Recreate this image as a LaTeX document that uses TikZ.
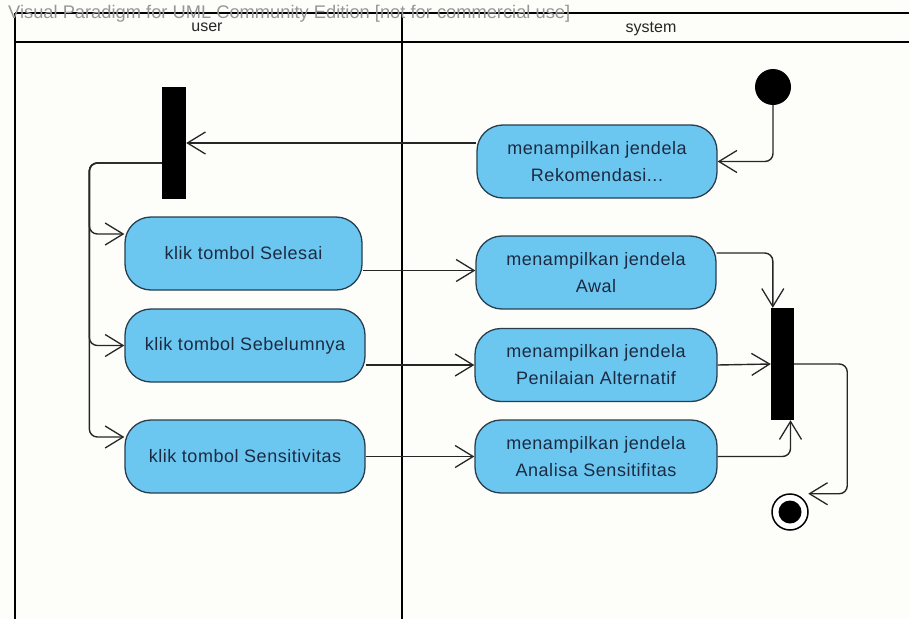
\documentclass[tikz,border=0pt]{standalone}
\usepackage{fontspec}
\setmainfont{Liberation Sans}
\newfontfamily\boxfont[LetterSpace=3]{Liberation Sans}
\newfontfamily\lanefont{Liberation Sans}
\usetikzlibrary{arrows.meta,calc}

\definecolor{actfill}{RGB}{108,199,240}
\definecolor{actedge}{RGB}{40,62,78}
\definecolor{acttext}{RGB}{28,42,66}
\definecolor{paper}{RGB}{253,253,250}
\definecolor{vpgray}{RGB}{150,150,150}

\tikzset{
  act/.style={draw=actedge, fill=actfill, line width=1.3pt, rounded corners=26pt,
    minimum width=240pt, minimum height=73pt, inner sep=0pt, align=center,
    text=acttext, font=\boxfont\fontsize{18}{27}\selectfont},
  bar/.style={fill=black, draw=none, inner sep=0pt},
  lane/.style={line width=2.2pt, black},
  flow/.style={line width=1.4pt, black!85, rounded corners=8pt,
    -{Straight Barb[length=18pt,width=22pt,line width=1.3pt]}},
  lanelabel/.style={font=\lanefont\fontsize{16}{16}\selectfont, text=black!85}
}

\begin{document}
\begin{tikzpicture}[x=1pt,y=-1pt]
  \useasboundingbox (0,0) rectangle (909,618);
  \fill[paper] (0,0) rectangle (909,618);

  % swimlane frame
  \draw[lane] (15,13) -- (912,13);
  \draw[lane] (15,42) -- (912,42);
  \draw[lane] (15,13) -- (15,622);
  \draw[lane] (402,13) -- (402,622);

  \node[anchor=base west, font=\fontsize{18.3}{18.3}\selectfont, text=vpgray, inner sep=0pt]
    (vp) at (8,19) {Visual Paradigm for UML Community Edition [not for commercial use]};
  \node[lanelabel] (userlbl) at (207,27) {user};
  \node[lanelabel] (syslbl) at (651,29) {system};

  % control nodes
  \node[circle, fill=black, minimum size=36pt, inner sep=0pt] (init) at (773,87) {};
  \node[bar, minimum width=24pt, minimum height=112pt] (fork) at (174,143) {};
  \node[bar, minimum width=23pt, minimum height=112pt] (join) at (782.5,364) {};
  \node[circle, draw=black, fill=white, line width=1.5pt, minimum size=36pt, inner sep=0pt] (final) at (790,512) {};
  \fill[black] (final.center) circle (11.5);

  % actions: user lane
  \node[act, minimum width=237pt] (sel) at (243.5,253.5) {klik tombol Selesai};
  \node[act] (seb) at (245,345.5) {klik tombol Sebelumnya};
  \node[act] (sen) at (245,456.5) {klik tombol Sensitivitas};

  % actions: system lane
  \node[act] (rek) at (597,161.5) {menampilkan jendela\\Rekomendasi...};
  \node[act] (awal) at (596,272.5) {menampilkan jendela\\Awal};
  \node[act, minimum width=242pt] (pen) at (596,365) {menampilkan jendela\\Penilaian Alternatif};
  \node[act, minimum width=242pt] (ana) at (596,456.5) {menampilkan jendela\\Analisa Sensitifitas};

  % flows
  \draw[flow] (init) |- (rek.east);
  \draw[flow] (rek.west |- fork.east) -- (fork.east);

  \coordinate (fk) at ($(fork.west)+(0,20)$);
  \coordinate (selin) at ($(sel.west)+(0,-19.5)$);
  \coordinate (senin) at ($(sen.west)+(0,-19.5)$);
  \draw[flow] (fk) -| ($(selin)+(-35,0)$) -- (selin);
  \draw[flow] (fk) -| ($(seb.west)+(-35,0)$) -- (seb.west);
  \draw[flow] (fk) -| ($(senin)+(-35,0)$) -- (senin);

  \draw[flow] ($(sel.east |- awal.west)+(0,-2)$) -- ($(awal.west)+(0,-2)$);
  \draw[flow] (seb.east |- pen.west) -- (pen.west);
  \draw[flow] (sen.east) -- (ana.west);

  \coordinate (jtop) at ($(join.north west)+(2,0)$);
  \coordinate (jbot) at ($(join.south)+(8,0)$);
  \draw[flow] ($(awal.east)+(0,-19.5)$) -| (jtop);
  \draw[flow] (pen.east) -- (join.west);
  \draw[flow] (ana.east) -| (jbot);

  \coordinate (finin) at ($(final.45)+(5,-5)$);
  \draw[flow] (join.east) -| ($(finin)+(39,0)$) -- (finin);
\end{tikzpicture}
\end{document}
